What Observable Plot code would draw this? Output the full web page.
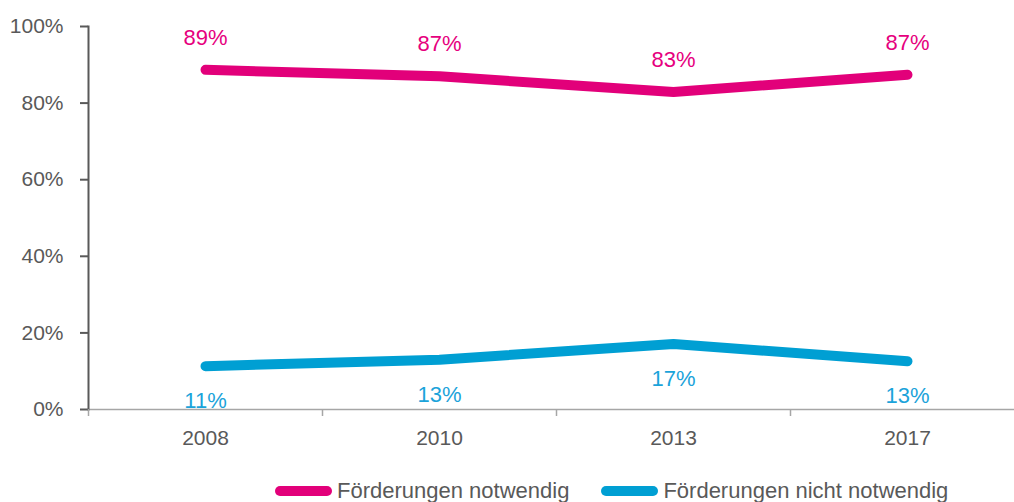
<!DOCTYPE html>
<html>
<head>
<meta charset="utf-8">
<script src="https://cdn.jsdelivr.net/npm/d3@7"></script>
<script src="https://cdn.jsdelivr.net/npm/@observablehq/plot@0.6"></script>
<style>
  html, body { margin: 0; padding: 0; background: #fff; overflow: hidden; }
  #chart { width: 1014px; height: 502px; position: relative; font-family: "Liberation Sans", Arial, sans-serif; }
  .legend { display: flex; align-items: center; margin-left: 275px; margin-top: 18px; font-size: 22px; color: #595959; line-height: 1; white-space: nowrap; }
  .legend .item { display: flex; align-items: center; margin-right: 32px; }
  .legend .sw { width: 57px; height: 10px; border-radius: 5px; margin-right: 5px; flex: none; }
</style>
</head>
<body>
<div id="chart"></div>
<script>
const years = ["2008", "2010", "2013", "2017"];
const seriesNames = ["Förderungen notwendig", "Förderungen nicht notwendig"];
const notwendig = [88.7, 87.0, 82.9, 87.4];
const nichtNotwendig = [11.3, 13.0, 17.1, 12.6];
const colors = ["#E2007A", "#009FD3"];
const labelColors = ["#E6007E", "#1BA3DA"];
const yTicks = [0, 20, 40, 60, 80, 100];

const rows = [];
years.forEach((yr, i) => {
  rows.push({i, year: yr, series: seriesNames[0], value: notwendig[i]});
  rows.push({i, year: yr, series: seriesNames[1], value: nichtNotwendig[i]});
});
const rowsA = rows.filter(d => d.series === seriesNames[0]);
const rowsB = rows.filter(d => d.series === seriesNames[1]);

const xDomain = [-0.5, years.length - 0.5];
const bandEdges = d3.range(years.length + 1).map(k => k - 0.5);

const font = '"Liberation Sans", Arial, sans-serif';

const plot = Plot.plot({
  width: 1014,
  height: 462,
  marginLeft: 88,
  marginRight: -10,
  marginTop: 26,
  marginBottom: 53,
  style: {fontFamily: font, background: "transparent", overflow: "visible"},
  x: {type: "linear", domain: xDomain},
  y: {domain: [0, 100]},
  marks: [
    Plot.ruleY([0], {stroke: "#A6A6A6", strokeWidth: 1.5}),
    Plot.frame({anchor: "left", stroke: "#595959", strokeWidth: 2}),
    Plot.axisY({ticks: yTicks, tickSize: 8, tickPadding: 17, tickFormat: d => d + "%", fontSize: 21, color: "#595959", stroke: "#595959", strokeWidth: 2, label: null}),
    Plot.axisX({ticks: bandEdges, tickSize: 7, tickFormat: () => "", stroke: "#A6A6A6", strokeWidth: 1.5, label: null}),
    Plot.axisX({ticks: d3.range(years.length), tickSize: 0, tickPadding: 21, tickFormat: k => years[k], fontSize: 21, color: "#595959", label: null}),
    Plot.line(rows, {x: "i", y: "value", z: "series", stroke: "series", strokeWidth: 10, strokeLinecap: "round", strokeLinejoin: "round"}),
    Plot.text(rowsA, {x: "i", y: "value", text: d => Math.round(d.value) + "%", dy: -32, fill: labelColors[0], fontSize: 22}),
    Plot.text(rowsB, {x: "i", y: "value", text: d => Math.round(d.value) + "%", dy: 35, fill: labelColors[1], fontSize: 22})
  ],
  color: {domain: seriesNames, range: colors}
});

const chart = document.getElementById("chart");
chart.appendChild(plot);

const legend = document.createElement("div");
legend.className = "legend";
seriesNames.forEach((name, k) => {
  const item = document.createElement("div");
  item.className = "item";
  const sw = document.createElement("span");
  sw.className = "sw";
  sw.style.background = colors[k];
  const t = document.createElement("span");
  t.textContent = name;
  item.appendChild(sw);
  item.appendChild(t);
  legend.appendChild(item);
});
chart.appendChild(legend);
</script>
</body>
</html>
